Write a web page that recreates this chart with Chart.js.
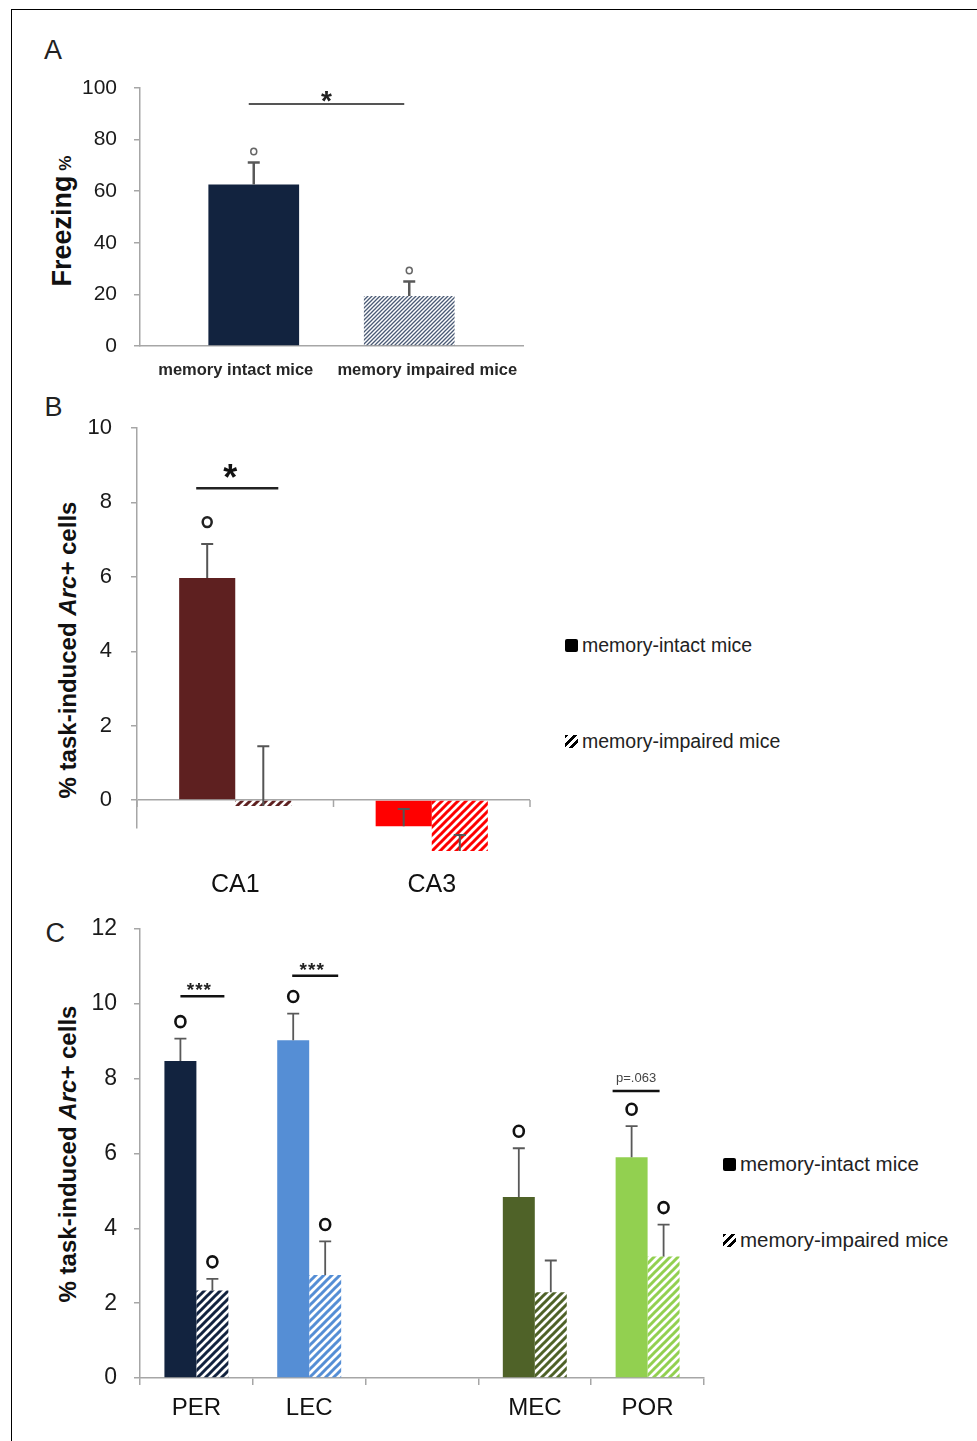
<!DOCTYPE html>
<html>
<head>
<meta charset="utf-8">
<script src="https://cdn.jsdelivr.net/npm/chart.js@4.4.1/dist/chart.umd.min.js"></script>
<style>
  body { margin: 0; background: #fff; width: 977px; height: 1441px; position: relative; overflow: hidden; font-family: "Liberation Sans", Arial, sans-serif; }
  .frame { position: absolute; left: 11px; top: 9px; right: -5px; bottom: -5px; border-top: 1.5px solid #000; border-left: 1.5px solid #000; }
  canvas { position: absolute; left: 0; }
  .letter { position: absolute; font-size: 27px; line-height: 1; color: #222; }
  .ytitle { position: absolute; transform: translate(-50%, -50%) rotate(-90deg); white-space: nowrap; font-weight: bold; line-height: 1; color: #111; }
  .leg { position: absolute; height: 24px; display: flex; align-items: center; white-space: nowrap; color: #222; }
  .sw { display: inline-block; width: 13px; height: 13px; margin-right: 4px; }
  .solid { background: #000; border-radius: 2px; }
  .hatch { background: repeating-linear-gradient(135deg, #000 0 2.6px, transparent 2.6px 6px); }
</style>
</head>
<body>
<div class="frame"></div>

<div class="letter" style="left:44px; top:37px;">A</div>
<div class="letter" style="left:44.5px; top:393.5px;">B</div>
<div class="letter" style="left:45.5px; top:919.5px;">C</div>

<div class="ytitle" style="left:62px; top:221px; font-size:27px;">Freezing<span style="font-size:17px;"> %</span></div>
<div class="ytitle" style="left:68px; top:650px; font-size:24px;">% task-induced <i>Arc+</i> cells</div>
<div class="ytitle" style="left:68px; top:1154px; font-size:24px;">% task-induced <i>Arc+</i> cells</div>

<div class="leg" style="left:565px; top:633px; font-size:19.5px;"><span class="sw solid"></span>memory-intact mice</div>
<div class="leg" style="left:565px; top:729px; font-size:19.5px;"><span class="sw hatch"></span>memory-impaired mice</div>
<div class="leg" style="left:723px; top:1152px; font-size:20.5px;"><span class="sw solid"></span>memory-intact mice</div>
<div class="leg" style="left:723px; top:1228px; font-size:20.5px;"><span class="sw hatch"></span>memory-impaired mice</div>

<canvas id="chartA" width="560" height="360" style="top:40px;"></canvas>
<canvas id="chartB" width="560" height="520" style="top:395px;"></canvas>
<canvas id="chartC" width="760" height="546" style="top:895px;"></canvas>

<script>
// A - freezing
const groupsA = ['memory intact mice', 'memory impaired mice'];
const freezingMean = [62.6, 19.4];
const freezingErr = [8.5, 5.6];
const freezingMark = [true, true];

// B - hippocampus
const regionsB = ['CA1', 'CA3'];
const intactB = [5.97, -0.70];
const intactBErr = [0.91, 0.46];
const intactBMark = [true, false];
const impairedB = [-0.16, -1.37];
const impairedBErr = [1.61, 0.43];
const impairedBMark = [false, false];

// C - cortex
const regionsC = ['PER', 'LEC', '', 'MEC', 'POR'];
const intactC = [8.47, 9.03, null, 4.84, 5.90];
const intactCErr = [0.60, 0.71, null, 1.30, 0.83];
const intactCMark = [true, true, false, true, true];
const impairedC = [2.34, 2.75, null, 2.29, 3.25];
const impairedCErr = [0.31, 0.90, null, 0.85, 0.85];
const impairedCMark = [true, true, false, false, true];

const AXIS = '#a6a6a6';
const FONT = '"Liberation Sans", Arial, sans-serif';

function hatch(color, size, width) {
    const c = document.createElement('canvas');
    c.width = c.height = size;
    const g = c.getContext('2d');
    g.strokeStyle = color;
    g.lineWidth = width;
    g.beginPath();
    g.moveTo(-1, size + 1); g.lineTo(size + 1, -1);
    g.moveTo(-size / 2 - 1, size / 2 + 1); g.lineTo(size / 2 + 1, -size / 2 - 1);
    g.moveTo(size / 2 - 1, size * 1.5 + 1); g.lineTo(size * 1.5 + 1, size / 2 - 1);
    g.stroke();
    return g.createPattern(c, 'repeat');
}

// keep only the value at index i (used for the shifted bars of panel A)
function onlyAt(arr, i) {
    return arr.map((v, j) => (j === i ? v : null));
}

const errorBars = {
    id: 'errorBars',
    afterDatasetsDraw(chart, args, opts) {
        const ctx = chart.ctx, y = chart.scales.y;
        ctx.save();
        chart.data.datasets.forEach((ds, i) => {
            chart.getDatasetMeta(i).data.forEach((bar, j) => {
                const v = ds.data[j], e = ds.errors ? ds.errors[j] : null;
                if (v == null || e == null) return;
                const x = bar.x, y0 = y.getPixelForValue(v), y1 = y.getPixelForValue(v + e);
                ctx.strokeStyle = opts.color;
                ctx.lineWidth = opts.width;
                ctx.beginPath();
                ctx.moveTo(x, y0); ctx.lineTo(x, y1);
                ctx.moveTo(x - opts.cap, y1); ctx.lineTo(x + opts.cap, y1);
                ctx.stroke();
                if (ds.marks && ds.marks[j]) {
                    ctx.strokeStyle = opts.markColor;
                    ctx.lineWidth = opts.markWidth;
                    ctx.beginPath();
                    ctx.ellipse(x, y1 - opts.markGap, opts.markR, opts.markR * 1.1, 0, 0, Math.PI * 2);
                    ctx.stroke();
                }
            });
        });
        ctx.restore();
    }
};

const sigBars = {
    id: 'sigBars',
    afterDatasetsDraw(chart, args, opts) {
        const ctx = chart.ctx, y = chart.scales.y;
        (opts.items || []).forEach(it => {
            const xa = chart.getDatasetMeta(it.from[0]).data[it.from[1]].x - it.reach[0];
            const xb = chart.getDatasetMeta(it.to[0]).data[it.to[1]].x + it.reach[1];
            const yy = y.getPixelForValue(it.value);
            ctx.save();
            ctx.strokeStyle = opts.color;
            ctx.lineWidth = opts.width;
            ctx.beginPath(); ctx.moveTo(xa, yy); ctx.lineTo(xb, yy); ctx.stroke();
            ctx.fillStyle = it.textColor || opts.textColor;
            ctx.font = it.font || opts.font;
            if (it.spacing) ctx.letterSpacing = it.spacing;
            ctx.textAlign = 'center';
            ctx.textBaseline = 'alphabetic';
            ctx.fillText(it.text, (xa + xb) / 2 + (it.dx || 0), yy + (it.dy != null ? it.dy : opts.dy));
            ctx.restore();
        });
    }
};

// tick marks at the category boundaries on the zero line (panel B)
const zeroTicks = {
    id: 'zeroTicks',
    afterDraw(chart) {
        const ctx = chart.ctx, x = chart.scales.x, y = chart.scales.y;
        const n = chart.data.labels.length;
        const half = (x.getPixelForValue(1) - x.getPixelForValue(0)) / 2;
        const y0 = y.getPixelForValue(0);
        ctx.save();
        ctx.strokeStyle = AXIS;
        ctx.lineWidth = 1.5;
        ctx.beginPath();
        for (let i = 0; i <= n; i++) {
            const px = x.getPixelForValue(0) - half + i * 2 * half;
            ctx.moveTo(px, y0); ctx.lineTo(px, y0 + 7);
        }
        ctx.stroke();
        ctx.restore();
    }
};

Chart.register(errorBars, sigBars);

function yAxis(min, max, step, size, pad, width) {
    return {
        min: min, max: max,
        ticks: { stepSize: step, includeBounds: false, color: '#1a1a1a', font: { family: FONT, size: size }, padding: pad },
        grid: { drawOnChartArea: false, tickLength: 6, color: AXIS, lineWidth: 1.5 },
        border: { color: AXIS, width: 1.5 },
        afterFit: s => { s.width = width; }
    };
}

// Panel A
new Chart(document.getElementById('chartA'), {
    type: 'bar',
    data: {
        labels: groupsA,
        datasets: [
            {
                label: 'memory impaired mice',
                data: onlyAt(freezingMean, 1), errors: onlyAt(freezingErr, 1), marks: onlyAt(freezingMark, 1),
                backgroundColor: hatch('#4a5a75', 4, 1.3),
                categoryPercentage: 0.376, barPercentage: 2.52
            },
            {
                label: 'memory intact mice',
                data: onlyAt(freezingMean, 0), errors: onlyAt(freezingErr, 0), marks: onlyAt(freezingMark, 0),
                backgroundColor: '#12233f',
                categoryPercentage: 0.376, barPercentage: 2.52
            }
        ]
    },
    options: {
        responsive: false,
        animation: false,
        layout: { padding: { top: 48, right: 37, left: 0, bottom: 0 } },
        plugins: {
            legend: { display: false },
            tooltip: { enabled: false },
            errorBars: { color: '#595959', width: 2.5, cap: 6, markColor: '#666', markWidth: 1.5, markR: 3, markGap: 11 },
            sigBars: {
                color: '#555', width: 2, textColor: '#222', font: 'bold 28px ' + FONT, dy: 6,
                items: [{ from: [1, 0], to: [0, 1], value: 93.8, text: '*', reach: [5, -5] }]
            }
        },
        scales: {
            x: {
                grid: { display: false },
                border: { color: AXIS, width: 1.5 },
                ticks: { color: '#262626', font: { family: FONT, size: 16.5, weight: 'bold' }, padding: 7 },
                afterFit: s => { s.height = 54; }
            },
            y: yAxis(0, 100, 20, 21, 17, 140)
        }
    }
});

// Panel B
const yB = yAxis(-0.75, 10, 2, 22, 19, 137);
yB.grid = {
    drawOnChartArea: true, tickLength: 6, lineWidth: 1.5, tickColor: AXIS,
    color: c => (c.tick && c.tick.value === 0 ? AXIS : 'rgba(0,0,0,0)')
};
new Chart(document.getElementById('chartB'), {
    type: 'bar',
    data: {
        labels: regionsB,
        datasets: [
            {
                label: 'memory-intact mice',
                data: intactB, errors: intactBErr, marks: intactBMark,
                backgroundColor: ['#5e2020', '#ff0000'],
                categoryPercentage: 0.571, barPercentage: 1, clip: false
            },
            {
                label: 'memory-impaired mice',
                data: impairedB, errors: impairedBErr, marks: impairedBMark,
                backgroundColor: [hatch('#5e2020', 8, 3), hatch('#ff0000', 8, 3)],
                categoryPercentage: 0.571, barPercentage: 1, clip: false
            }
        ]
    },
    options: {
        responsive: false,
        animation: false,
        layout: { padding: { top: 33, right: 30, left: 0, bottom: 0 } },
        plugins: {
            legend: { display: false },
            tooltip: { enabled: false },
            errorBars: { color: '#555', width: 2, cap: 6, markColor: '#222', markWidth: 2.5, markR: 4.5, markGap: 22 },
            sigBars: {
                color: '#222', width: 2.5, textColor: '#111', font: 'bold 36px ' + FONT, dy: 2,
                items: [{ from: [0, 0], to: [1, 0], value: 8.38, text: '*', reach: [11, 15], dx: -7 }]
            }
        },
        scales: {
            x: {
                grid: { display: false },
                border: { display: false },
                ticks: { color: '#111', font: { family: FONT, size: 25 }, padding: 34 },
                afterFit: s => { s.height = 87; }
            },
            y: yB
        }
    },
    plugins: [zeroTicks]
});

// Panel C
const intactColorsC = ['#12233f', '#558ed5', '#000', '#4f6228', '#92d050'];
new Chart(document.getElementById('chartC'), {
    type: 'bar',
    data: {
        labels: regionsC,
        datasets: [
            {
                label: 'memory-intact mice',
                data: intactC, errors: intactCErr, marks: intactCMark,
                backgroundColor: intactColorsC,
                categoryPercentage: 0.567, barPercentage: 1
            },
            {
                label: 'memory-impaired mice',
                data: impairedC, errors: impairedCErr, marks: impairedCMark,
                backgroundColor: intactColorsC.map(c => hatch(c, 8, 3)),
                categoryPercentage: 0.567, barPercentage: 1
            }
        ]
    },
    options: {
        responsive: false,
        animation: false,
        layout: { padding: { top: 34, right: 56, left: 0, bottom: 0 } },
        plugins: {
            legend: { display: false },
            tooltip: { enabled: false },
            errorBars: { color: '#595959', width: 1.8, cap: 6, markColor: '#111', markWidth: 2.6, markR: 5, markGap: 17 },
            sigBars: {
                color: '#111', width: 2.5, textColor: '#222', font: 'bold 19px ' + FONT, dy: 0,
                items: [
                    { from: [0, 0], to: [1, 0], value: 10.2, text: '***', reach: [0, 12], spacing: '1px', dx: -3 },
                    { from: [0, 1], to: [1, 1], value: 10.75, text: '***', reach: [1, 13], spacing: '1px', dx: -3 },
                    { from: [0, 4], to: [1, 4], value: 7.67, text: 'p=.063', reach: [19, -4], font: '13px ' + FONT, textColor: '#444', dy: -9 }
                ]
            }
        },
        scales: {
            x: {
                grid: { offset: true, drawOnChartArea: false, tickLength: 7, color: AXIS, lineWidth: 1.5 },
                border: { color: AXIS, width: 1.5 },
                ticks: { color: '#111', font: { family: FONT, size: 24 }, padding: 9 },
                afterFit: s => { s.height = 63; }
            },
            y: yAxis(0, 12, 2, 23, 17, 140)
        }
    }
});
</script>
</body>
</html>
